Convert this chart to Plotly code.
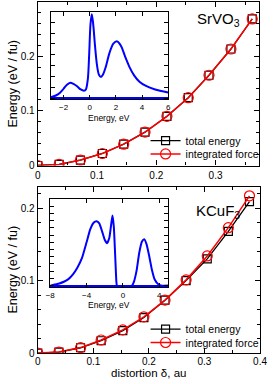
import plotly.graph_objects as go

FONT = "Liberation Sans, Arial, sans-serif"

# ---- main panels: energy vs distortion ----
delta_srvo3 = [0, 0.036, 0.072, 0.109, 0.145, 0.181, 0.218, 0.254, 0.289, 0.326, 0.362]
etot_srvo3 = [0, 0.002, 0.010, 0.022, 0.039, 0.061, 0.090, 0.124, 0.165, 0.213, 0.268]
eforce_srvo3 = [0, 0.002, 0.010, 0.022, 0.039, 0.061, 0.090, 0.124, 0.165, 0.213, 0.268]

delta_kcuf3 = [0, 0.038, 0.077, 0.114, 0.153, 0.191, 0.229, 0.267, 0.305, 0.343, 0.381]
etot_kcuf3 = [0, 0.0014, 0.0073, 0.017, 0.031, 0.049, 0.073, 0.100, 0.130, 0.168, 0.209]
eforce_kcuf3 = [0, 0.0014, 0.0075, 0.018, 0.032, 0.050, 0.073, 0.101, 0.134, 0.173, 0.217]

# ---- insets: density of states (arbitrary units) ----
dos_e_srvo3 = [-3.0, -2.6, -2.3, -2.0, -1.75, -1.5, -1.25, -1.0, -0.7, -0.45, -0.3, -0.15,
               -0.05, 0.05, 0.15, 0.25, 0.4, 0.55, 0.7, 0.85, 1.0, 1.2, 1.5, 1.8, 2.1,
               2.4, 2.7, 3.0, 3.4, 3.8, 4.3, 5.0, 6.0]
dos_srvo3 = [0.01, 0.03, 0.06, 0.11, 0.155, 0.178, 0.165, 0.14, 0.10, 0.085, 0.10, 0.22,
             0.50, 0.85, 0.97, 0.87, 0.60, 0.38, 0.27, 0.245, 0.27, 0.35, 0.52, 0.63, 0.655,
             0.60, 0.48, 0.37, 0.26, 0.19, 0.14, 0.10, 0.065]

dos_e_kcuf3 = [-8.0, -7.0, -6.5, -6.0, -5.5, -5.0, -4.5, -4.0, -3.6, -3.2, -2.9, -2.6, -2.3,
               -2.0, -1.75, -1.5, -1.3, -1.15, -1.0, -0.85, -0.72, -0.65, 1.0, 1.2, 1.5,
               1.8, 2.1, 2.35, 2.6, 2.9, 3.2, 3.5, 3.9, 4.3, 5.0]
dos_kcuf3 = [0.0, 0.025, 0.045, 0.075, 0.13, 0.21, 0.32, 0.50, 0.65, 0.73, 0.745, 0.72, 0.63,
             0.53, 0.49, 0.55, 0.70, 0.81, 0.68, 0.35, 0.05, 0.0, 0.0, 0.04, 0.17,
             0.38, 0.51, 0.535, 0.48, 0.34, 0.18, 0.07, 0.015, 0.0, 0.0]

FERMI = 0.0
W, H = 274, 384


def px_x(a, b):
    return [a / W, b / W]


def px_y(top, bottom):
    return [1 - bottom / H, 1 - top / H]


fig = go.Figure()

# main curves
for xs, ys_t, ys_f, xa, ya, lg1, lg2 in [
    (delta_srvo3, etot_srvo3, eforce_srvo3, "x", "y", "legend", "legend2"),
    (delta_kcuf3, etot_kcuf3, eforce_kcuf3, "x2", "y2", "legend3", "legend4"),
]:
    fig.add_trace(go.Scatter(
        x=xs, y=ys_t, mode="lines+markers", name="total energy",
        line=dict(color="black", width=1.3),
        marker=dict(symbol="square-open", size=8, color="black", line=dict(width=1.2)),
        xaxis=xa, yaxis=ya, legend=lg1))
    fig.add_trace(go.Scatter(
        x=xs, y=ys_f, mode="lines+markers", name="integrated force",
        line=dict(color="red", width=1.5),
        marker=dict(symbol="circle-open", size=10, color="red", line=dict(width=1.2)),
        xaxis=xa, yaxis=ya, legend=lg2))

# DOS insets
fig.add_trace(go.Scatter(x=dos_e_srvo3, y=dos_srvo3, mode="lines",
                         line=dict(color="#0000ff", width=2, shape="spline", smoothing=0.8),
                         xaxis="x3", yaxis="y3", showlegend=False))
fig.add_trace(go.Scatter(x=dos_e_kcuf3, y=dos_kcuf3, mode="lines",
                         line=dict(color="#0000ff", width=2, shape="spline", smoothing=0.5),
                         xaxis="x4", yaxis="y4", showlegend=False))

tickfont = dict(family=FONT, size=10, color="black")
insfont = dict(family=FONT, size=8, color="black")


def main_axis(domain, rng, dtick, mdtick, anchor):
    return dict(domain=domain, range=rng, anchor=anchor, dtick=dtick, tick0=0,
                showline=True, linecolor="black", linewidth=1.3, mirror="ticks",
                ticks="inside", ticklen=5, tickwidth=1, tickcolor="black",
                showgrid=False, zeroline=False, tickfont=tickfont,
                minor=dict(ticks="inside", ticklen=3, dtick=mdtick, tick0=0,
                           tickcolor="black", showgrid=False))


def inset_axis(domain, rng, dtick, anchor, labels=True, zl=False):
    d = dict(domain=domain, range=rng, anchor=anchor, dtick=dtick, tick0=0,
             showline=True, linecolor="black", linewidth=1, mirror="ticks",
             ticks="inside", ticklen=4, tickwidth=1, tickcolor="black",
             showgrid=False, zeroline=zl, showticklabels=labels, tickfont=insfont)
    if zl:
        d.update(zerolinecolor="#0000ff", zerolinewidth=2)
    return d


xaxis2 = main_axis(px_x(34.3, 266.7), [0, 0.4], 0.1, 0.05, "y2")
xaxis2["ticklabelstandoff"] = -1

fig.update_layout(
    width=W, height=H, margin=dict(l=0, r=0, t=0, b=0),
    paper_bgcolor="white", plot_bgcolor="white",
    font=dict(family=FONT, color="black"),
    xaxis=main_axis(px_x(34.3, 266), [0, 0.374], 0.1, 0.05, "y"),
    yaxis=main_axis(px_y(2, 167.7), [0, 0.299], 0.1, 0.02, "x"),
    xaxis2=xaxis2,
    yaxis2=main_axis(px_y(189, 357.7), [0, 0.2298], 0.1, 0.02, "x2"),
    xaxis3=inset_axis(px_x(47.7, 170.7), [-3, 6], 2, "y3"),
    yaxis3=inset_axis(px_y(11.7, 100.7), [-0.015, 1.0], 0.125, "x3", labels=False, zl=True),
    xaxis4=inset_axis(px_x(47.3, 170.8), [-8, 5], 4, "y4"),
    yaxis4=inset_axis(px_y(201.7, 290.7), [-0.015, 1.0], 1 / 12, "x4", labels=False, zl=True),
    shapes=[
        dict(type="line", xref="x3", yref="y3 domain", x0=FERMI, x1=FERMI, y0=0, y1=1,
             line=dict(color="#999999", width=1, dash="dot"), layer="below"),
        dict(type="line", xref="x4", yref="y4 domain", x0=FERMI, x1=FERMI, y0=0, y1=1,
             line=dict(color="#999999", width=1, dash="dot"), layer="below"),
    ],
)

leg = dict(xanchor="left", yanchor="middle", bgcolor="rgba(0,0,0,0)", borderwidth=0,
           font=dict(family=FONT, size=10.5, color="black"), itemwidth=30)
LX = 147 / W
fig.update_layout(
    legend=dict(leg, x=LX, y=1 - 142.5 / H),
    legend2=dict(leg, x=LX, y=1 - 156 / H),
    legend3=dict(leg, x=LX, y=1 - 333.5 / H),
    legend4=dict(leg, x=LX, y=1 - 347 / H),
)

ann = [
    dict(text="SrVO<sub>3</sub>", x=199 / W, y=1 - 20 / H, xanchor="left", yanchor="middle",
         font=dict(family=FONT, size=15)),
    dict(text="KCuF<sub>3</sub>", x=198 / W, y=1 - 214 / H, xanchor="left", yanchor="middle",
         font=dict(family=FONT, size=15)),
    dict(text="Energy (eV / fu)", x=8 / W, y=1 - 85 / H, textangle=-90,
         xanchor="center", yanchor="middle", font=dict(family=FONT, size=12.5)),
    dict(text="Energy (eV / fu)", x=8 / W, y=1 - 273.4 / H, textangle=-90,
         xanchor="center", yanchor="middle", font=dict(family=FONT, size=12.5)),
    dict(text="distortion δ, au", x=150 / W, y=1 - 377.5 / H,
         xanchor="center", yanchor="middle", font=dict(family=FONT, size=11.5)),
    dict(text="Energy, eV", x=109 / W, y=1 - 119.5 / H,
         xanchor="center", yanchor="middle", font=dict(family=FONT, size=8.5)),
    dict(text="Energy, eV", x=109 / W, y=1 - 309.5 / H,
         xanchor="center", yanchor="middle", font=dict(family=FONT, size=8.5)),
]
for a in ann:
    a.update(xref="paper", yref="paper", showarrow=False)
fig.update_layout(annotations=ann)

fig.write_html("out.html", config={"displayModeBar": False},
               post_script="document.body.style.margin='0';")
